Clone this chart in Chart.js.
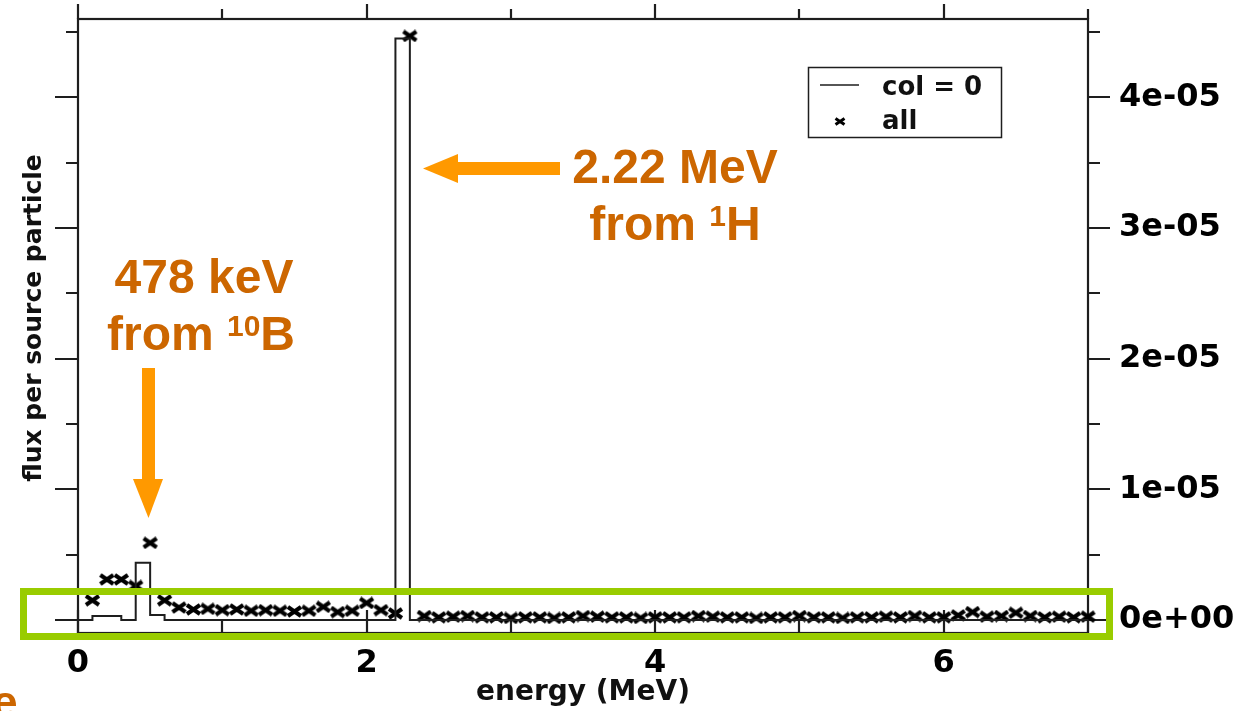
<!DOCTYPE html>
<html><head><meta charset="utf-8">
<script src="https://cdn.jsdelivr.net/npm/chart.js@4.4.0/dist/chart.umd.min.js"></script>
<style>html,body{margin:0;padding:0;background:#fff;overflow:hidden}canvas{display:block}</style>
</head><body>
<canvas id="c" width="1254" height="711"></canvas>
<script>
// ---- data (flux per source particle, in units of 1e-6) ----
const UNIT = 1e-6;
const binEdges = [0.0,0.1,0.2,0.3,0.4,0.5,0.6,0.7,0.8,0.9,1.0,1.1,1.2,1.3,1.4,1.5,1.6,1.7,1.8,1.9,
  2.0,2.1,2.2,2.3,2.4,2.5,2.6,2.7,2.8,2.9,3.0,3.1,3.2,3.3,3.4,3.5,3.6,3.7,3.8,3.9,
  4.0,4.1,4.2,4.3,4.4,4.5,4.6,4.7,4.8,4.9,5.0,5.1,5.2,5.3,5.4,5.5,5.6,5.7,5.8,5.9,
  6.0,6.1,6.2,6.3,6.4,6.5,6.6,6.7,6.8,6.9,7.0];
// "col = 0" histogram, one value per bin (binEdges[i]..binEdges[i+1])
const colFlux = [0,0.3,0.3,0,4.37,0.38,0,0,0,0,0,0,0,0,0,0,0,0,0,0,
  0,0,44.5,0,0,0,0,0,0,0,0,0,0,0,0,0,0,0,0,0,
  0,0,0,0,0,0,0,0,0,0,0,0,0,0,0,0,0,0,0,0,
  0,0,0,0,0,0,0,0,0,0];
// "all" markers, one value per bin, plotted at the bin upper edge
const allFlux = [1.5,3.1,3.1,2.6,5.9,1.5,0.95,0.8,0.85,0.75,0.8,0.7,0.75,0.7,0.65,0.7,1.0,0.6,0.7,1.3,
  0.75,0.5,44.7,0.3,0.2,0.25,0.3,0.2,0.2,0.15,0.2,0.2,0.15,0.2,0.3,0.25,0.2,0.2,0.15,0.2,
  0.2,0.2,0.3,0.25,0.2,0.2,0.15,0.2,0.2,0.3,0.2,0.2,0.15,0.2,0.2,0.25,0.2,0.3,0.2,0.2,
  0.35,0.6,0.25,0.3,0.55,0.3,0.2,0.25,0.2,0.25];
const seriesNames = ['col = 0', 'all'];
const xRange = [0, 7];
const yRange = [-1.0e-6, 4.6e-5];
const xLabelStep = 2;
const yLabelStep = 1e-5;

// ---- build datasets ----
const colPts = colFlux.map((v,i)=>({x:binEdges[i], y:v*UNIT}));
colPts.push({x:binEdges[binEdges.length-1], y:0});
const allPts = allFlux.map((v,i)=>({x:binEdges[i+1], y:v*UNIT}));

function makeX(w,h,lw){
  const c=document.createElement('canvas'); c.width=w; c.height=h;
  const g=c.getContext('2d'); g.strokeStyle='#000'; g.lineWidth=lw; g.lineCap='butt';
  const p=lw/2;
  g.beginPath(); g.moveTo(p,p); g.lineTo(w-p,h-p); g.moveTo(w-p,p); g.lineTo(p,h-p); g.stroke();
  return c;
}
const markerImg = makeX(17,13,4);
const legendMarker = makeX(12,9,3);

function sci(v){
  if (Math.abs(v) < 1e-12) return '0e+00';
  const e = Math.floor(Math.log10(Math.abs(v)) + 1e-9);
  const m = Math.round(v/Math.pow(10,e));
  return m + 'e' + (e<0?'-':'+') + String(Math.abs(e)).padStart(2,'0');
}
function noPad(s){ s.paddingTop = 0; s.paddingBottom = 0; s.paddingLeft = 0; s.paddingRight = 0; }

const AX = '#1e1e1e';
const TEXT_ORANGE = '#cc6600';
const ARROW_ORANGE = '#ff9900';
const GREEN = '#99cc00';

const framePlugin = {
  id:'frame',
  beforeDatasetsDraw(chart){
    const {ctx, chartArea:a, scales} = chart;
    const xs = scales.x, ys = scales.y;
    ctx.save();
    ctx.strokeStyle = AX; ctx.lineWidth = 2.2;
    ctx.strokeRect(a.left, a.top, a.right-a.left, a.bottom-a.top);
    ctx.beginPath();
    // x ticks: top outward, bottom inward
    for (let v = Math.ceil(xs.min); v <= xs.max + 1e-9; v += 1) {
      const px = Math.round(xs.getPixelForValue(v));
      const major = (v % xLabelStep) === 0;
      ctx.moveTo(px, a.top); ctx.lineTo(px, a.top - (major?15:10));
      ctx.moveTo(px, a.bottom); ctx.lineTo(px, a.bottom - (major?23:13));
    }
    // y ticks: outward both sides, minor halfway
    for (let k = 0; k * yLabelStep/2 <= ys.max + 1e-12; k++) {
      const v = k*yLabelStep/2;
      const py = Math.round(ys.getPixelForValue(v));
      const major = k % 2 === 0;
      ctx.moveTo(a.left, py); ctx.lineTo(a.left - (major?23:12), py);
      ctx.moveTo(a.right, py); ctx.lineTo(a.right + (major?22:12), py);
    }
    ctx.stroke();
    // axis titles
    ctx.fillStyle = '#111';
    ctx.font = 'bold 28px "DejaVu Sans"';
    ctx.textAlign = 'center'; ctx.textBaseline = 'alphabetic';
    ctx.fillText('energy (MeV)', 583, 700);
    ctx.save();
    ctx.translate(41, 318); ctx.rotate(-Math.PI/2);
    ctx.font = 'bold 25px "DejaVu Sans"';
    ctx.fillText('flux per source particle', 0, 0);
    ctx.restore();
    ctx.restore();
  },
  afterDraw(chart){
    const {ctx} = chart;
    ctx.save();
    // legend
    ctx.strokeStyle = AX; ctx.lineWidth = 1.5;
    ctx.strokeRect(808.5, 67.5, 193, 70);
    ctx.beginPath(); ctx.moveTo(820, 85); ctx.lineTo(859, 85); ctx.stroke();
    ctx.drawImage(legendMarker, 834, 117);
    ctx.fillStyle = '#111';
    ctx.font = 'bold 26px "DejaVu Sans"';
    ctx.textAlign = 'left'; ctx.textBaseline = 'alphabetic';
    ctx.fillText(seriesNames[0], 882, 95);
    ctx.fillText(seriesNames[1], 882, 129);

    // green highlight box
    ctx.strokeStyle = GREEN; ctx.lineWidth = 7;
    ctx.strokeRect(23.5, 591.5, 1086, 45);

    // arrows
    ctx.fillStyle = ARROW_ORANGE;
    ctx.fillRect(457, 162, 103, 13);
    ctx.beginPath(); ctx.moveTo(423, 168.5); ctx.lineTo(458, 154); ctx.lineTo(458, 183); ctx.closePath(); ctx.fill();
    ctx.fillRect(142, 368, 13, 112);
    ctx.beginPath(); ctx.moveTo(133, 479); ctx.lineTo(163, 479); ctx.lineTo(148.5, 518); ctx.closePath(); ctx.fill();

    // annotation text
    ctx.fillStyle = TEXT_ORANGE;
    ctx.textAlign = 'center';
    ctx.font = 'bold 48px "Liberation Sans"';
    ctx.fillText('2.22 MeV', 675, 183);
    ctx.fillText('478 keV', 204, 293);
    function supLine(parts, cx, base){
      const widths = parts.map(p=>{ctx.font = p[1] ? 'bold 30px "Liberation Sans"' : 'bold 48px "Liberation Sans"'; return ctx.measureText(p[0]).width;});
      let x = cx - widths.reduce((s,w)=>s+w,0)/2;
      ctx.textAlign = 'left';
      parts.forEach((p,i)=>{
        ctx.font = p[1] ? 'bold 30px "Liberation Sans"' : 'bold 48px "Liberation Sans"';
        ctx.fillText(p[0], x, p[1] ? base - 14 : base);
        x += widths[i];
      });
    }
    supLine([['from ',false],['1',true],['H',false]], 675, 240);
    supLine([['from ',false],['10',true],['B',false]], 201, 350);
    ctx.textAlign = 'left';
    ctx.font = 'bold 46px "Liberation Sans"';
    ctx.fillText('e', -8, 718);
    ctx.restore();
  }
};

new Chart(document.getElementById('c'), {
  type:'line',
  data:{
    datasets:[
      {label:seriesNames[0], data:colPts, stepped:'before', borderColor:AX, borderWidth:2, pointRadius:0, fill:false, yAxisID:'y'},
      {label:seriesNames[1], data:allPts, showLine:false, pointStyle:markerImg, pointRadius:6, borderColor:'#000', backgroundColor:'#000', yAxisID:'y', clip:false}
    ]
  },
  options:{
    responsive:false, animation:false, devicePixelRatio:1,
    layout:{padding:{top:19,left:0,right:0,bottom:0}},
    plugins:{legend:{display:false}, tooltip:{enabled:false}},
    scales:{
      x:{type:'linear', position:'bottom', min:xRange[0], max:xRange[1],
         afterFit(s){ s.height = 78; noPad(s); },
         ticks:{stepSize:xLabelStep, includeBounds:false, padding:3, color:'#000', maxRotation:0, autoSkip:false,
                font:{family:'DejaVu Sans', weight:'bold', size:32}},
         grid:{display:false}, border:{display:false}},
      y:{type:'linear', position:'left', min:yRange[0], max:yRange[1],
         afterFit(s){ s.width = 78; noPad(s); },
         ticks:{display:false, stepSize:yLabelStep, includeBounds:false},
         grid:{display:false}, border:{display:false}},
      y2:{type:'linear', position:'right', min:yRange[0], max:yRange[1],
         afterFit(s){ s.width = 166; noPad(s); },
         ticks:{stepSize:yLabelStep, includeBounds:false, padding:23, color:'#000', callback:(v)=>sci(v),
                font:{family:'DejaVu Sans', weight:'bold', size:32}},
         grid:{display:false}, border:{display:false}}
    }
  },
  plugins:[framePlugin]
});
</script>
</body></html>
